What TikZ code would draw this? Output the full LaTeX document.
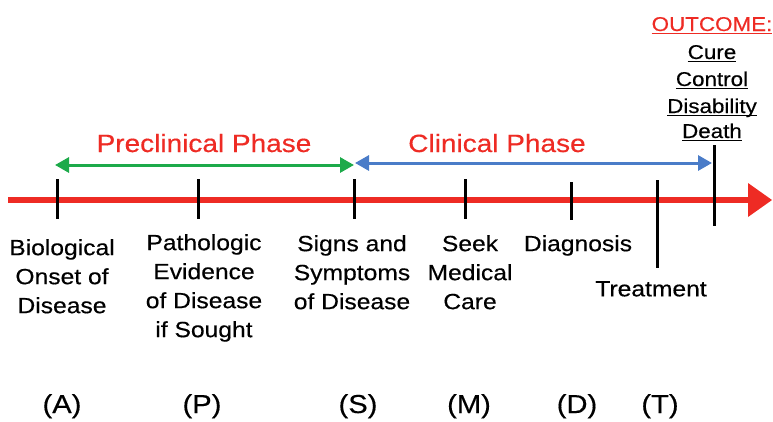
\documentclass[tikz,border=0pt]{standalone}
\usepackage{fontspec}
\setmainfont{Liberation Sans}[FakeStretch=1.12,FakeBold=0.4]
\usetikzlibrary{arrows.meta}
\definecolor{tlred}{HTML}{EE2B24}
\definecolor{tlgreen}{HTML}{1DAA4A}
\definecolor{tlblue}{HTML}{4A7CC8}
\newcommand\ulx[1]{\setbox0\hbox{#1}\rlap{\rule[-3pt]{\wd0}{1.4pt}}\box0}
\begin{document}
\begin{tikzpicture}[x=1pt,y=-1pt,
  lab/.style={font=\fontsize{22}{29}\selectfont, align=center, anchor=north, inner sep=0pt},
  letter/.style={font=\fontsize{26}{30}\selectfont, anchor=base, inner sep=0pt},
  phase/.style={font=\fontsize{25}{30}\selectfont, text=tlred, anchor=base, inner sep=0pt},
  outc/.style={font=\fontsize{20}{24}\selectfont, anchor=base, inner sep=0pt},
  tick/.style={draw=black, line width=3pt},
  span/.style={line width=3pt, {Triangle[length=14pt,width=15pt]}-{Triangle[length=14pt,width=15pt]}}
]
\useasboundingbox (0,0) rectangle (773,421);
% main timeline
\coordinate (mainL) at (8,200);
\coordinate (mainR) at (750,200);
\draw[tlred, line width=6pt] (mainL) -- (mainR);
\fill[tlred] (748,183) -- (772,200) -- (748,217) -- cycle;
% ticks
\foreach \n/\x/\ya/\yb in {A/57/179/219, P/198/179/219, S/354/179/219, M/465/179/219, D/571/182/220, T/657/180/268, O/714/145/226}{
  \coordinate (\n top) at (\x,\ya);
  \coordinate (\n bot) at (\x,\yb);
  \draw[tick] (\n top) -- (\n bot);
}
% phase arrows
\coordinate (gL) at (55,165);
\coordinate (gR) at (354,165);
\coordinate (bL) at (355,163);
\coordinate (bR) at (712,163);
\draw[span, tlgreen] (gL) -- (gR);
\draw[span, tlblue] (bL) -- (bR);
\node[phase] (pre) at (204,152) {Preclinical Phase};
\node[phase] (cli) at (497,152) {Clinical Phase};
% outcome
\node[outc, text=tlred] (out) at (712,31) {\ulx{OUTCOME:}};
\node[outc] (cure) at (712,59) {\ulx{Cure}};
\node[outc] (ctrl) at (712,86) {\ulx{Control}};
\node[outc] (disa) at (712,113) {\ulx{Disability}};
\node[outc] (dead) at (712,138) {\ulx{Death}};
% labels
\node[lab] (lA) at (62,239) {Biological\\Onset of\\Disease};
\node[lab] (lP) at (204,234) {Pathologic\\Evidence\\of Disease\\if Sought};
\node[lab] (lS) at (352,235) {Signs and\\Symptoms\\of Disease};
\node[lab] (lM) at (470,235) {Seek\\Medical\\Care};
\node[lab] (lD) at (578,235) {Diagnosis};
\node[lab] (lT) at (651,281) {Treatment};
% letters
\node[letter] (cA) at (62,413) {(A)};
\node[letter] (cP) at (202,413) {(P)};
\node[letter] (cS) at (358,413) {(S)};
\node[letter] (cM) at (469,413) {(M)};
\node[letter] (cD) at (577,413) {(D)};
\node[letter] (cT) at (660,413) {(T)};
\end{tikzpicture}
\end{document}
